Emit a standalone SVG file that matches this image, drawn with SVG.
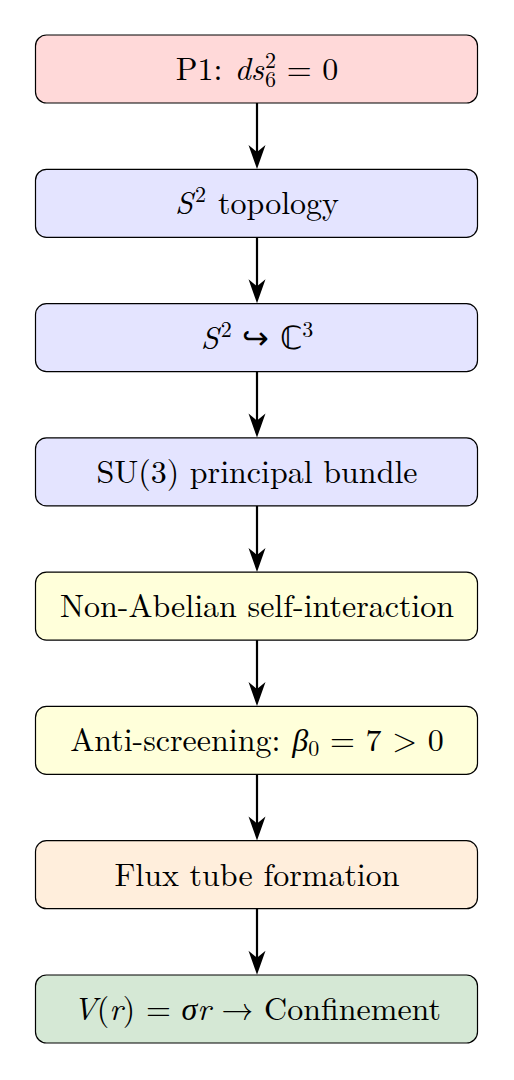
<svg xmlns="http://www.w3.org/2000/svg" width="514" height="1080" viewBox="0 0 514 1080">
<defs>
<style>
.box{stroke:#000;stroke-width:1.2}
.t{font-family:"Latin Modern Roman","CMU Serif","Liberation Serif",serif;font-size:32px;fill:#000;text-anchor:middle}
.i{font-style:italic}
.s{font-size:22px}
.c{stroke:#000;stroke-width:2.2;fill:none}
</style>
</defs>
<rect width="514" height="1080" fill="#fff"/>
<g id="connectors">
<path class="c" d="M257,103 V160"/>
<path class="c" d="M257,237.3 V294"/>
<path class="c" d="M257,371.6 V428"/>
<path class="c" d="M257,505.9 V563"/>
<path class="c" d="M257,640.1 V697"/>
<path class="c" d="M257,774.4 V831"/>
<path class="c" d="M257,908.7 V965"/>
<g fill="#000">
<path d="M257,169 L248.5,145 L257,152 L265.5,145 Z"/>
<path d="M257,303.3 L248.5,279.3 L257,286.3 L265.5,279.3 Z"/>
<path d="M257,437.6 L248.5,413.6 L257,420.6 L265.5,413.6 Z"/>
<path d="M257,571.9 L248.5,547.9 L257,554.9 L265.5,547.9 Z"/>
<path d="M257,706.1 L248.5,682.1 L257,689.1 L265.5,682.1 Z"/>
<path d="M257,840.4 L248.5,816.4 L257,823.4 L265.5,816.4 Z"/>
<path d="M257,974.7 L248.5,950.7 L257,957.7 L265.5,950.7 Z"/>
</g>
</g>
<g id="n1">
<rect class="box" x="35.5" y="35" width="442" height="68" rx="11" fill="#FFD9D9"/>
<text class="t" x="257" y="80">P1:<tspan class="i" dx="12">ds</tspan><tspan class="s" dx="1" dy="7">6</tspan><tspan class="s" dx="-11" dy="-19">2</tspan><tspan dy="12"> = 0</tspan></text>
</g>
<g id="n2">
<rect class="box" x="35.5" y="169.3" width="442" height="68" rx="11" fill="#E4E4FF"/>
<text class="t" x="257" y="214.3"><tspan class="i">S</tspan><tspan class="s" dx="2" dy="-12">2</tspan><tspan dx="12" dy="12">topology</tspan></text>
</g>
<g id="n3">
<rect class="box" x="35.5" y="303.6" width="442" height="68" rx="11" fill="#E4E4FF"/>
<text class="t" x="257" y="348.6"><tspan class="i">S</tspan><tspan class="s" dx="2" dy="-12">2</tspan><tspan dy="12"> ↪ ℂ</tspan><tspan class="s" dy="-12">3</tspan></text>
</g>
<g id="n4">
<rect class="box" x="35.5" y="437.9" width="442" height="68" rx="11" fill="#E4E4FF"/>
<text class="t" x="257" y="482.9">SU(3) principal bundle</text>
</g>
<g id="n5">
<rect class="box" x="35.5" y="572.1" width="442" height="68" rx="11" fill="#FFFFDA"/>
<text class="t" x="257" y="617.1">Non-Abelian self-interaction</text>
</g>
<g id="n6">
<rect class="box" x="35.5" y="706.4" width="442" height="68" rx="11" fill="#FFFFDA"/>
<text class="t" x="257" y="751.4">Anti-screening:<tspan class="i" dx="12">β</tspan><tspan class="s" dy="5">0</tspan><tspan dy="-5"> = 7 &gt; 0</tspan></text>
</g>
<g id="n7">
<rect class="box" x="35.5" y="840.7" width="442" height="68" rx="11" fill="#FFEEDC"/>
<text class="t" x="257" y="885.7">Flux tube formation</text>
</g>
<g id="n8">
<rect class="box" x="35.5" y="975" width="442" height="68" rx="11" fill="#D5E8D5"/>
<text class="t" x="257" y="1020"><tspan class="i">V</tspan>(<tspan class="i">r</tspan>) = <tspan class="i">σr</tspan> → Confinement</text>
</g>
</svg>
